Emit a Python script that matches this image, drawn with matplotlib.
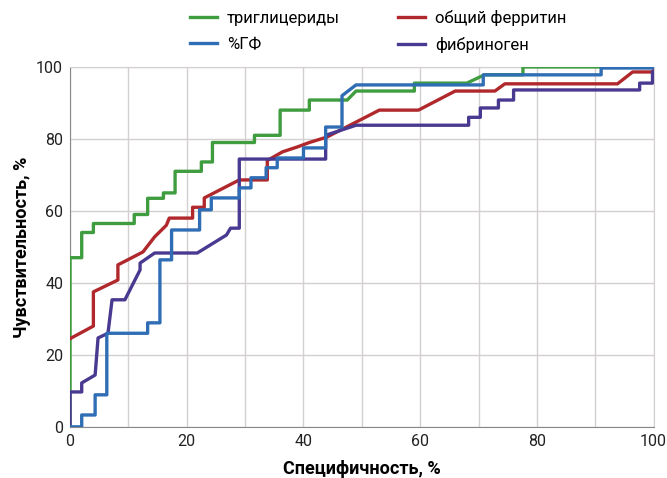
import matplotlib.pyplot as plt
from matplotlib.ticker import MultipleLocator

plt.rcParams['font.family'] = ['Roboto', 'DejaVu Sans']

# ROC curves: specificity (x) vs sensitivity (y), %
trig_x = [0, 0, 2, 2, 4, 4, 11, 11, 13.3, 13.3, 16, 16, 18, 18, 22.5, 22.5, 24.4, 24.4,
          31.6, 31.6, 36, 36, 41, 41, 47.5, 49, 59, 59, 68, 71, 77.6, 77.6, 100]
trig_y = [0, 47, 47, 54, 54, 56.5, 56.5, 59, 59, 63.5, 63.5, 65, 65, 71, 71, 73.6, 73.6, 79,
          79, 81, 81, 88, 88, 90.8, 90.8, 93.3, 93.3, 95.5, 95.5, 97.8, 97.8, 100, 100]

ferr_x = [0, 4, 4, 8.2, 8.2, 10.6, 12.5, 14.5, 16.5, 17, 21, 21, 23, 23, 29, 33.8, 33.8,
          36.4, 39, 41, 44, 53, 59.7, 66, 72.8, 74.5, 93.8, 96.4, 100, 100]
ferr_y = [24.5, 28, 37.5, 40.8, 45, 47, 48.6, 52.8, 56, 58, 58, 61, 61, 63.6, 68.6, 68.6, 74,
          76.4, 77.8, 79, 80.5, 88, 88, 93.3, 93.3, 95.3, 95.3, 98.6, 98.6, 100]

gf_x = [0, 2, 2, 4.3, 4.3, 6.3, 6.3, 13.3, 13.3, 15.4, 15.4, 17.4, 17.4, 22.2, 22.2, 24.2,
        24.2, 29, 29, 31, 31, 33.6, 33.6, 35.5, 35.5, 40, 40, 43.8, 43.8, 46.6, 46.6, 49,
        70.8, 70.8, 91, 91, 100]
gf_y = [0, 0, 3.3, 3.3, 8.9, 8.9, 26, 26, 28.9, 28.9, 46.4, 46.4, 54.7, 54.7, 60.3, 60.3,
        63.6, 63.6, 66.4, 66.4, 69.2, 69.2, 72, 72, 74.7, 74.7, 77.5, 77.5, 83.3, 83.3, 92, 95,
        95, 97.8, 97.8, 99.7, 99.7]

fib_x = [0, 0, 2, 2, 4.3, 4.8, 6.5, 7.2, 9.4, 12, 12, 14.5, 21.8, 26.8, 27.5, 29, 29,
         43.8, 43.8, 49, 68.3, 68.3, 70.3, 70.3, 73.4, 73.4, 76, 76, 97.6, 97.6, 99.8, 99.8]
fib_y = [0, 9.7, 9.7, 12.2, 14.4, 24.7, 26, 35.3, 35.3, 43.6, 45.5, 48.3, 48.3, 53.3, 55.2,
         55.2, 74.4, 74.4, 81, 83.8, 83.8, 86, 86, 88.6, 88.6, 90.8, 90.8, 93.6, 93.6, 95.5,
         95.5, 98.6]

fig = plt.figure(figsize=(6.67, 4.78), dpi=100)
ax = fig.add_axes([0.105, 0.107, 0.875, 0.753])

lw = 2.4
ax.plot(trig_x, trig_y, color='#3f9c3f', lw=lw, label='триглицериды', zorder=3)
ax.plot(gf_x, gf_y, color='#2f6db5', lw=lw, label='%ГФ', zorder=4)
ax.plot(ferr_x, ferr_y, color='#b0282b', lw=lw, label='общий ферритин', zorder=3)
ax.plot(fib_x, fib_y, color='#4a3990', lw=lw, label='фибриноген', zorder=3)

ax.set_xlim(0, 100)
ax.set_ylim(0, 100)
ax.xaxis.set_major_locator(MultipleLocator(20))
ax.xaxis.set_minor_locator(MultipleLocator(10))
ax.yaxis.set_major_locator(MultipleLocator(20))
ax.grid(which='both', axis='x', color='#d4d0d0', lw=1)
ax.grid(which='major', axis='y', color='#d4d0d0', lw=1)
ax.tick_params(which='both', length=0, labelsize=11.5, colors='#222222', pad=5)
for s in ax.spines.values():
    s.set_color('#d4d0d0')
ax.spines['left'].set_color('#888888')
ax.spines['bottom'].set_color('#888888')

ax.set_xlabel('Специфичность, %', fontsize=13, fontweight='bold', labelpad=8)
ax.set_ylabel('Чувствительность, %', fontsize=13, fontweight='bold', labelpad=4)

handles, labels = ax.get_legend_handles_labels()
fig.legend(handles, labels, ncol=2,
           loc='upper left', bbox_to_anchor=(0.27, 1.0), frameon=False, fontsize=12,
           handlelength=1.6, columnspacing=3.5, labelspacing=0.65, handletextpad=0.6,
           borderaxespad=0.2)

fig.savefig('out.png', dpi=100)
